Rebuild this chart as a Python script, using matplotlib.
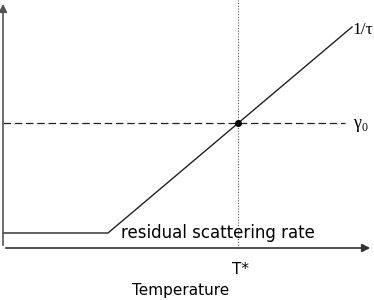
import matplotlib
matplotlib.use("Agg")
import matplotlib.pyplot as plt

# scattering rate vs temperature (schematic, arbitrary units)
temp = [3, 108, 352]
rate = [67, 67, 273]
gamma0 = 177
gamma0_span = [3, 345]
t_star = 238

fig = plt.figure(figsize=(3.74, 3.0), dpi=100)
ax = fig.add_axes([0, 0, 1, 1])
ax.set_xlim(0, 374)
ax.set_ylim(0, 300)
ax.axis("off")

# axes with arrows
ax.annotate("", xy=(373, 52), xytext=(3, 52),
            arrowprops=dict(arrowstyle="-|>", color="#333333", lw=1.2, mutation_scale=12))
ax.annotate("", xy=(3, 299), xytext=(3, 52),
            arrowprops=dict(arrowstyle="-|>", color="#555555", lw=1.2, mutation_scale=12))

ax.plot(temp, rate, color="#222222", lw=1.0)
ax.plot(gamma0_span, [gamma0, gamma0], color="#222222", lw=0.9, ls=(0, (6, 3)))
ax.plot([t_star, t_star], [52, 300], color="#555555", lw=0.8, ls=(0, (1, 1.5)))
ax.plot([t_star], [gamma0], "o", color="black", ms=4)

ax.text(352, 270, "1/τ", family="Liberation Serif", fontsize=12.5, ha="left", va="center")
ax.text(353, 177, "γ", family="Liberation Serif", fontsize=13, ha="left", va="center")
ax.text(362, 172, "0", family="Liberation Serif", fontsize=8.5, ha="left", va="center")
ax.text(121, 67, "residual scattering rate", family="DejaVu Sans", fontsize=12,
        ha="left", va="center")
ax.text(232, 31, "T*", family="DejaVu Sans", fontsize=11, ha="left", va="center")
ax.text(181, 10, "Temperature", family="DejaVu Sans", fontsize=11, ha="center", va="center")

fig.savefig("out.png", dpi=100)
